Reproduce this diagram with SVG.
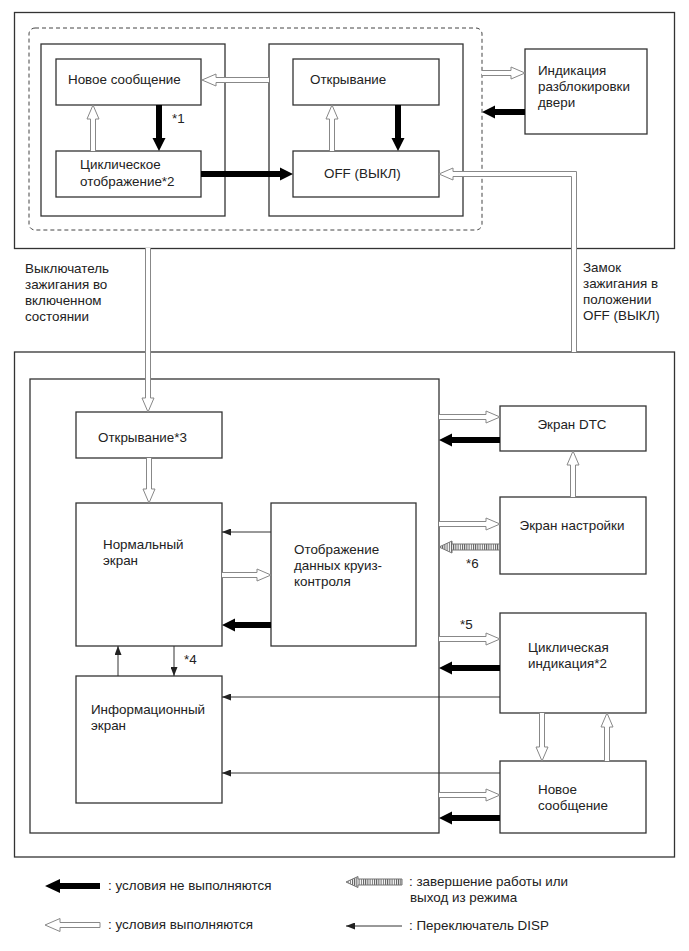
<svg xmlns="http://www.w3.org/2000/svg" width="689" height="951" viewBox="0 0 689 951">
<style>
.box{fill:#fff;stroke:#333;stroke-width:1.3}
.frame{fill:none;stroke:#333;stroke-width:1.3}
.dash{fill:none;stroke:#444;stroke-width:1;stroke-dasharray:4 3}
.hol{fill:#fff;stroke:#888;stroke-width:1}
.blk{fill:#000;stroke:none}
.thin{stroke:#333;stroke-width:1;fill:none;marker-end:url(#tri)}
.str{fill:url(#stripes);stroke:#777;stroke-width:1}
text{font-family:"Liberation Sans",Arial,sans-serif;font-size:13.4px;fill:#222}
.mid{text-anchor:middle}
</style>
<defs>
<marker id="tri" markerUnits="userSpaceOnUse" markerWidth="9" markerHeight="7" refX="9" refY="3.5" orient="auto">
<path d="M0,0 L9,3.5 L0,7 Z" fill="#222"/>
</marker>
<pattern id="stripes" patternUnits="userSpaceOnUse" width="2.2" height="4">
<rect width="2.2" height="4" fill="#fff"/>
<rect width="1" height="4" fill="#555"/>
</pattern>
</defs>

<!-- frames -->
<rect class="frame" x="14.5" y="12.5" width="660" height="236"/>
<rect class="dash" x="29" y="28" width="453" height="202" rx="6"/>
<rect class="frame" x="41" y="44" width="184" height="172"/>
<rect class="frame" x="269" y="44" width="194" height="172"/>
<rect class="frame" x="14.5" y="352" width="660" height="505"/>
<rect class="frame" x="30" y="379" width="409" height="454"/>

<g id="n_new_msg_top"><rect class="box" x="56" y="59" width="145" height="46"/><text x="68" y="84">Новое сообщение</text></g>
<g id="n_cyclic_top"><rect class="box" x="56" y="151" width="145" height="46"/><text x="80" y="169">Циклическое</text><text x="80" y="186">отображение*2</text></g>
<g id="n_opening_top"><rect class="box" x="293" y="59" width="146" height="46"/><text x="310" y="84">Открывание</text></g>
<g id="n_off"><rect class="box" x="293" y="151" width="146" height="46"/><text x="324" y="178">OFF (ВЫКЛ)</text></g>
<g id="n_unlock"><rect class="box" x="525" y="49" width="122" height="85"/><text x="538" y="75">Индикация</text><text x="538" y="91">разблокировки</text><text x="538" y="107">двери</text></g>

<g id="n_opening3"><rect class="box" x="76" y="412" width="146" height="46"/><text x="98" y="442">Открывание*3</text></g>
<g id="n_normal"><rect class="box" x="76" y="503" width="146" height="143"/><text x="103" y="549">Нормальный</text><text x="103" y="565">экран</text></g>
<g id="n_cruise"><rect class="box" x="271" y="503" width="145" height="143"/><text x="294" y="554">Отображение</text><text x="294" y="570">данных круиз-</text><text x="294" y="586">контроля</text></g>
<g id="n_info"><rect class="box" x="76" y="676" width="146" height="127"/><text x="91" y="714">Информационный</text><text x="91" y="730">экран</text></g>
<g id="n_dtc"><rect class="box" x="500" y="406" width="146" height="45"/><text class="mid" x="572" y="429">Экран DTC</text></g>
<g id="n_settings"><rect class="box" x="500" y="497" width="146" height="77"/><text class="mid" x="572" y="530">Экран настройки</text></g>
<g id="n_cyclic"><rect class="box" x="500" y="613" width="146" height="100"/><text x="528" y="652">Циклическая</text><text x="528" y="668">индикация*2</text></g>
<g id="n_new_msg"><rect class="box" x="500" y="761" width="146" height="72"/><text x="538" y="794">Новое</text><text x="538" y="810">сообщение</text></g>

<g id="labels">
<text x="25" y="273">Выключатель</text>
<text x="25" y="289">зажигания во</text>
<text x="25" y="305">включенном</text>
<text x="25" y="321">состоянии</text>
<text x="583" y="272">Замок</text>
<text x="583" y="288">зажигания в</text>
<text x="583" y="304">положении</text>
<text x="583" y="320">OFF (ВЫКЛ)</text>
<text x="172" y="123">*1</text>
<text x="184" y="664">*4</text>
<text x="460" y="629">*5</text>
<text x="466" y="568">*6</text>
</g>

<g id="connectors">
<path class="hol" d="M269,77.5 H216 V74 L202,80 L216,86 V82.5 H269"/>
<path class="blk" d="M156,105 H162 V138 H165.5 L159,151 L152.5,138 H156 Z"/>
<path class="hol" d="M90.5,151 V119 H87 L93,105 L99,119 H95.5 V151"/>
<path class="blk" d="M201,171 H280 V167.5 L293,174 L280,180.5 V177 H201 Z"/>
<path class="hol" d="M329.5,151 V119 H326 L332,105 L338,119 H334.5 V151"/>
<path class="blk" d="M395,105 H401 V138 H404.5 L398,151 L391.5,138 H395 Z"/>
<path class="hol" d="M482,70.5 H511 V67 L525,73 L511,79 V75.5 H482"/>
<path class="blk" d="M525,109 H495 V105.5 L482,112 L495,118.5 V115 H525 Z"/>
<path class="hol" d="M571.5,352 V176.5 H453 V180 L439,174 L453,168 V171.5 H576.5 V352"/>
<path class="hol" d="M145.5,248 V398 H142 L148,412 L154,398 H150.5 V248"/>

<path class="hol" d="M146.5,458 V489 H143 L149,503 L155,489 H151.5 V458"/>
<line class="thin" x1="271" y1="532" x2="222" y2="532"/>
<path class="hol" d="M222,572.5 H257 V569 L271,575 L257,581 V577.5 H222"/>
<path class="blk" d="M271,622 H235 V618.5 L222,625 L235,631.5 V628 H271 Z"/>
<line class="thin" x1="118" y1="676" x2="118" y2="646"/>
<line class="thin" x1="174" y1="646" x2="174" y2="676"/>

<path class="hol" d="M439,414.5 H486 V411 L500,417 L486,423 V419.5 H439"/>
<path class="blk" d="M500,437 H452 V433.5 L439,440 L452,446.5 V443 H500 Z"/>
<path class="hol" d="M570.5,497 V465 H567 L573,451 L579,465 H575.5 V497"/>
<path class="hol" d="M439,521.5 H486 V518 L500,524 L486,530 V526.5 H439"/>
<path class="str" d="M500,544 H452 V541 L439,547 L452,553 V550 H500 Z"/>
<path class="hol" d="M439,636.5 H486 V633 L500,639 L486,645 V641.5 H439"/>
<path class="blk" d="M500,665 H452 V661.5 L439,668 L452,674.5 V671 H500 Z"/>
<line class="thin" x1="500" y1="697" x2="222" y2="697"/>
<path class="hol" d="M539.5,713 V747 H536 L542,761 L548,747 H544.5 V713"/>
<path class="hol" d="M604.5,761 V727 H601 L607,713 L613,727 H609.5 V761"/>
<line class="thin" x1="500" y1="773" x2="222" y2="773"/>
<path class="hol" d="M439,792.5 H486 V789 L500,795 L486,801 V797.5 H439"/>
<path class="blk" d="M500,815 H452 V811.5 L439,818 L452,824.5 V821 H500 Z"/>
</g>

<g id="legend">
<path class="blk" d="M100,883 H60 V879 L45,886 L60,893 V889 H100 Z"/>
<text x="108" y="890">: условия не выполняются</text>
<path class="hol" d="M100,922.5 H60 V918.5 L45,925 L60,931.5 V927.5 H100 Z"/>
<text x="108" y="929">: условия выполняются</text>
<path class="str" d="M402,879 H358 V876.5 L346,882 L358,887.5 V885 H402 Z"/>
<text x="409" y="886">: завершение работы или</text>
<text x="410" y="902">выход из режима</text>
<line class="thin" x1="402" y1="926" x2="346" y2="926"/>
<text x="409" y="930">: Переключатель DISP</text>
</g>
</svg>
